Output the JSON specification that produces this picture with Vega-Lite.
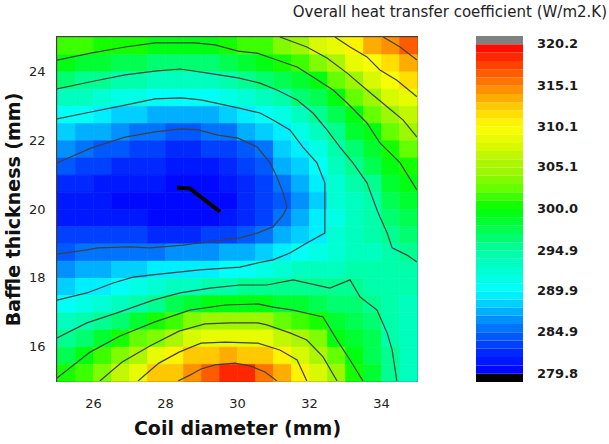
{
"$schema":"https://vega.github.io/schema/vega-lite/v6.json",
"width":360,"height":344,
"autosize":{"type":"none"},
"padding":{"left":57,"top":37,"right":192,"bottom":63},
"background":"white",
"title":{"text":"Overall heat transfer coefficient (W/m2.K)","anchor":"end","frame":"group","dx":190,"offset":16,"font":"DejaVu Sans","fontSize":15,"fontWeight":"normal","color":"#222222"},
"config":{"view":{"stroke":"#404040","strokeWidth":2},
"axis":{"labelFont":"DejaVu Sans","labelFontSize":13,"labelColor":"#222222","titleFont":"DejaVu Sans","titleFontSize":19,"titleFontWeight":"bold","titleColor":"#111111","ticks":false,"tickSize":0,"domain":false,"grid":false}},
"layer":[
{"data":{"values":[
{"x":25.25,"y":24.75,"v":301.5},{"x":25.25,"y":24.25,"v":299.3},{"x":25.25,"y":23.75,"v":296.4},{"x":25.25,"y":23.25,"v":293.5},{"x":25.25,"y":22.75,"v":290.5},{"x":25.25,"y":22.25,"v":288.3},{"x":25.25,"y":21.75,"v":286.3},{"x":25.25,"y":21.25,"v":284.2},{"x":25.25,"y":20.75,"v":282.5},{"x":25.25,"y":20.25,"v":281.5},{"x":25.25,"y":19.75,"v":281.8},{"x":25.25,"y":19.25,"v":283.2},{"x":25.25,"y":18.75,"v":284.8},{"x":25.25,"y":18.25,"v":286.8},{"x":25.25,"y":17.75,"v":288.7},{"x":25.25,"y":17.25,"v":290.7},{"x":25.25,"y":16.75,"v":293.2},{"x":25.25,"y":16.25,"v":295.5},{"x":25.25,"y":15.75,"v":297.8},{"x":25.25,"y":15.25,"v":300.0},
{"x":25.75,"y":24.75,"v":301.7},{"x":25.75,"y":24.25,"v":298.8},{"x":25.75,"y":23.75,"v":295.9},{"x":25.75,"y":23.25,"v":293.0},{"x":25.75,"y":22.75,"v":289.9},{"x":25.75,"y":22.25,"v":287.7},{"x":25.75,"y":21.75,"v":285.5},{"x":25.75,"y":21.25,"v":283.8},{"x":25.75,"y":20.75,"v":282.3},{"x":25.75,"y":20.25,"v":281.3},{"x":25.75,"y":19.75,"v":281.5},{"x":25.75,"y":19.25,"v":283.0},{"x":25.75,"y":18.75,"v":285.0},{"x":25.75,"y":18.25,"v":287.0},{"x":25.75,"y":17.75,"v":289.0},{"x":25.75,"y":17.25,"v":291.2},{"x":25.75,"y":16.75,"v":294.0},{"x":25.75,"y":16.25,"v":296.6},{"x":25.75,"y":15.75,"v":299.0},{"x":25.75,"y":15.25,"v":301.4},
{"x":26.25,"y":24.75,"v":301.0},{"x":26.25,"y":24.25,"v":298.1},{"x":26.25,"y":23.75,"v":295.2},{"x":26.25,"y":23.25,"v":292.2},{"x":26.25,"y":22.75,"v":289.3},{"x":26.25,"y":22.25,"v":286.9},{"x":26.25,"y":21.75,"v":284.6},{"x":26.25,"y":21.25,"v":283.0},{"x":26.25,"y":20.75,"v":281.8},{"x":26.25,"y":20.25,"v":281.0},{"x":26.25,"y":19.75,"v":281.3},{"x":26.25,"y":19.25,"v":283.0},{"x":26.25,"y":18.75,"v":285.4},{"x":26.25,"y":18.25,"v":287.5},{"x":26.25,"y":17.75,"v":289.6},{"x":26.25,"y":17.25,"v":292.4},{"x":26.25,"y":16.75,"v":295.5},{"x":26.25,"y":16.25,"v":298.6},{"x":26.25,"y":15.75,"v":301.3},{"x":26.25,"y":15.25,"v":303.7},
{"x":26.75,"y":24.75,"v":300.5},{"x":26.75,"y":24.25,"v":297.6},{"x":26.75,"y":23.75,"v":294.7},{"x":26.75,"y":23.25,"v":291.7},{"x":26.75,"y":22.75,"v":288.8},{"x":26.75,"y":22.25,"v":286.2},{"x":26.75,"y":21.75,"v":284.0},{"x":26.75,"y":21.25,"v":282.6},{"x":26.75,"y":20.75,"v":281.5},{"x":26.75,"y":20.25,"v":280.8},{"x":26.75,"y":19.75,"v":281.2},{"x":26.75,"y":19.25,"v":283.0},{"x":26.75,"y":18.75,"v":285.6},{"x":26.75,"y":18.25,"v":288.0},{"x":26.75,"y":17.75,"v":290.5},{"x":26.75,"y":17.25,"v":293.4},{"x":26.75,"y":16.75,"v":296.9},{"x":26.75,"y":16.25,"v":300.3},{"x":26.75,"y":15.75,"v":303.3},{"x":26.75,"y":15.25,"v":306.5},
{"x":27.25,"y":24.75,"v":300.0},{"x":27.25,"y":24.25,"v":297.1},{"x":27.25,"y":23.75,"v":294.1},{"x":27.25,"y":23.25,"v":291.2},{"x":27.25,"y":22.75,"v":288.3},{"x":27.25,"y":22.25,"v":285.6},{"x":27.25,"y":21.75,"v":283.6},{"x":27.25,"y":21.25,"v":282.3},{"x":27.25,"y":20.75,"v":281.2},{"x":27.25,"y":20.25,"v":280.6},{"x":27.25,"y":19.75,"v":281.0},{"x":27.25,"y":19.25,"v":283.0},{"x":27.25,"y":18.75,"v":285.8},{"x":27.25,"y":18.25,"v":288.5},{"x":27.25,"y":17.75,"v":291.4},{"x":27.25,"y":17.25,"v":294.5},{"x":27.25,"y":16.75,"v":298.4},{"x":27.25,"y":16.25,"v":302.1},{"x":27.25,"y":15.75,"v":305.5},{"x":27.25,"y":15.25,"v":308.4},
{"x":27.75,"y":24.75,"v":299.6},{"x":27.75,"y":24.25,"v":296.6},{"x":27.75,"y":23.75,"v":293.6},{"x":27.75,"y":23.25,"v":290.5},{"x":27.75,"y":22.75,"v":287.7},{"x":27.75,"y":22.25,"v":285.1},{"x":27.75,"y":21.75,"v":283.3},{"x":27.75,"y":21.25,"v":282.0},{"x":27.75,"y":20.75,"v":281.0},{"x":27.75,"y":20.25,"v":280.4},{"x":27.75,"y":19.75,"v":280.8},{"x":27.75,"y":19.25,"v":282.8},{"x":27.75,"y":18.75,"v":285.7},{"x":27.75,"y":18.25,"v":288.9},{"x":27.75,"y":17.75,"v":292.2},{"x":27.75,"y":17.25,"v":295.7},{"x":27.75,"y":16.75,"v":300.0},{"x":27.75,"y":16.25,"v":303.9},{"x":27.75,"y":15.75,"v":308.2},{"x":27.75,"y":15.25,"v":312.2},
{"x":28.25,"y":24.75,"v":299.7},{"x":28.25,"y":24.25,"v":296.3},{"x":28.25,"y":23.75,"v":293.3},{"x":28.25,"y":23.25,"v":290.3},{"x":28.25,"y":22.75,"v":287.5},{"x":28.25,"y":22.25,"v":284.8},{"x":28.25,"y":21.75,"v":282.8},{"x":28.25,"y":21.25,"v":281.3},{"x":28.25,"y":20.75,"v":280.2},{"x":28.25,"y":20.25,"v":280.2},{"x":28.25,"y":19.75,"v":280.8},{"x":28.25,"y":19.25,"v":282.7},{"x":28.25,"y":18.75,"v":286.2},{"x":28.25,"y":18.25,"v":289.4},{"x":28.25,"y":17.75,"v":293.2},{"x":28.25,"y":17.25,"v":297.4},{"x":28.25,"y":16.75,"v":302.0},{"x":28.25,"y":16.25,"v":306.0},{"x":28.25,"y":15.75,"v":310.2},{"x":28.25,"y":15.25,"v":313.0},
{"x":28.75,"y":24.75,"v":299.7},{"x":28.75,"y":24.25,"v":296.3},{"x":28.75,"y":23.75,"v":293.3},{"x":28.75,"y":23.25,"v":290.3},{"x":28.75,"y":22.75,"v":287.4},{"x":28.75,"y":22.25,"v":284.8},{"x":28.75,"y":21.75,"v":282.6},{"x":28.75,"y":21.25,"v":281.0},{"x":28.75,"y":20.75,"v":280.1},{"x":28.75,"y":20.25,"v":280.0},{"x":28.75,"y":19.75,"v":280.7},{"x":28.75,"y":19.25,"v":282.8},{"x":28.75,"y":18.75,"v":286.3},{"x":28.75,"y":18.25,"v":289.6},{"x":28.75,"y":17.75,"v":293.8},{"x":28.75,"y":17.25,"v":298.2},{"x":28.75,"y":16.75,"v":303.4},{"x":28.75,"y":16.25,"v":308.0},{"x":28.75,"y":15.75,"v":312.1},{"x":28.75,"y":15.25,"v":314.8},
{"x":29.25,"y":24.75,"v":299.8},{"x":29.25,"y":24.25,"v":296.8},{"x":29.25,"y":23.75,"v":293.7},{"x":29.25,"y":23.25,"v":290.6},{"x":29.25,"y":22.75,"v":287.7},{"x":29.25,"y":22.25,"v":285.2},{"x":29.25,"y":21.75,"v":283.0},{"x":29.25,"y":21.25,"v":281.4},{"x":29.25,"y":20.75,"v":280.3},{"x":29.25,"y":20.25,"v":280.0},{"x":29.25,"y":19.75,"v":280.6},{"x":29.25,"y":19.25,"v":283.0},{"x":29.25,"y":18.75,"v":286.8},{"x":29.25,"y":18.25,"v":289.8},{"x":29.25,"y":17.75,"v":294.2},{"x":29.25,"y":17.25,"v":299.1},{"x":29.25,"y":16.75,"v":304.2},{"x":29.25,"y":16.25,"v":308.7},{"x":29.25,"y":15.75,"v":312.5},{"x":29.25,"y":15.25,"v":316.8},
{"x":29.75,"y":24.75,"v":300.2},{"x":29.75,"y":24.25,"v":297.2},{"x":29.75,"y":23.75,"v":294.3},{"x":29.75,"y":23.25,"v":291.2},{"x":29.75,"y":22.75,"v":288.3},{"x":29.75,"y":22.25,"v":285.7},{"x":29.75,"y":21.75,"v":283.8},{"x":29.75,"y":21.25,"v":282.3},{"x":29.75,"y":20.75,"v":281.1},{"x":29.75,"y":20.25,"v":280.5},{"x":29.75,"y":19.75,"v":281.3},{"x":29.75,"y":19.25,"v":283.8},{"x":29.75,"y":18.75,"v":287.2},{"x":29.75,"y":18.25,"v":290.3},{"x":29.75,"y":17.75,"v":294.7},{"x":29.75,"y":17.25,"v":299.4},{"x":29.75,"y":16.75,"v":304.4},{"x":29.75,"y":16.25,"v":309.0},{"x":29.75,"y":15.75,"v":313.1},{"x":29.75,"y":15.25,"v":318.5},
{"x":30.25,"y":24.75,"v":301.3},{"x":30.25,"y":24.25,"v":298.2},{"x":30.25,"y":23.75,"v":295.2},{"x":30.25,"y":23.25,"v":292.3},{"x":30.25,"y":22.75,"v":289.4},{"x":30.25,"y":22.25,"v":286.9},{"x":30.25,"y":21.75,"v":284.6},{"x":30.25,"y":21.25,"v":283.3},{"x":30.25,"y":20.75,"v":282.3},{"x":30.25,"y":20.25,"v":281.9},{"x":30.25,"y":19.75,"v":282.7},{"x":30.25,"y":19.25,"v":284.8},{"x":30.25,"y":18.75,"v":287.7},{"x":30.25,"y":18.25,"v":290.8},{"x":30.25,"y":17.75,"v":295.3},{"x":30.25,"y":17.25,"v":299.7},{"x":30.25,"y":16.75,"v":304.5},{"x":30.25,"y":16.25,"v":309.0},{"x":30.25,"y":15.75,"v":313.0},{"x":30.25,"y":15.25,"v":318.3},
{"x":30.75,"y":24.75,"v":302.0},{"x":30.75,"y":24.25,"v":299.0},{"x":30.75,"y":23.75,"v":296.2},{"x":30.75,"y":23.25,"v":293.3},{"x":30.75,"y":22.75,"v":290.3},{"x":30.75,"y":22.25,"v":288.0},{"x":30.75,"y":21.75,"v":285.7},{"x":30.75,"y":21.25,"v":284.3},{"x":30.75,"y":20.75,"v":283.6},{"x":30.75,"y":20.25,"v":283.4},{"x":30.75,"y":19.75,"v":283.8},{"x":30.75,"y":19.25,"v":285.6},{"x":30.75,"y":18.75,"v":288.4},{"x":30.75,"y":18.25,"v":291.5},{"x":30.75,"y":17.75,"v":295.2},{"x":30.75,"y":17.25,"v":299.3},{"x":30.75,"y":16.75,"v":304.2},{"x":30.75,"y":16.25,"v":308.2},{"x":30.75,"y":15.75,"v":312.2},{"x":30.75,"y":15.25,"v":316.0},
{"x":31.25,"y":24.75,"v":303.6},{"x":31.25,"y":24.25,"v":300.0},{"x":31.25,"y":23.75,"v":297.3},{"x":31.25,"y":23.25,"v":294.5},{"x":31.25,"y":22.75,"v":291.6},{"x":31.25,"y":22.25,"v":289.4},{"x":31.25,"y":21.75,"v":288.2},{"x":31.25,"y":21.25,"v":286.9},{"x":31.25,"y":20.75,"v":285.5},{"x":31.25,"y":20.25,"v":284.8},{"x":31.25,"y":19.75,"v":285.0},{"x":31.25,"y":19.25,"v":287.0},{"x":31.25,"y":18.75,"v":289.6},{"x":31.25,"y":18.25,"v":292.7},{"x":31.25,"y":17.75,"v":295.9},{"x":31.25,"y":17.25,"v":298.9},{"x":31.25,"y":16.75,"v":302.9},{"x":31.25,"y":16.25,"v":306.9},{"x":31.25,"y":15.75,"v":310.7},{"x":31.25,"y":15.25,"v":313.5},
{"x":31.75,"y":24.75,"v":305.0},{"x":31.75,"y":24.25,"v":301.1},{"x":31.75,"y":23.75,"v":298.4},{"x":31.75,"y":23.25,"v":296.1},{"x":31.75,"y":22.75,"v":293.6},{"x":31.75,"y":22.25,"v":291.2},{"x":31.75,"y":21.75,"v":289.5},{"x":31.75,"y":21.25,"v":288.3},{"x":31.75,"y":20.75,"v":287.3},{"x":31.75,"y":20.25,"v":286.8},{"x":31.75,"y":19.75,"v":287.3},{"x":31.75,"y":19.25,"v":288.6},{"x":31.75,"y":18.75,"v":290.6},{"x":31.75,"y":18.25,"v":293.1},{"x":31.75,"y":17.75,"v":295.7},{"x":31.75,"y":17.25,"v":298.5},{"x":31.75,"y":16.75,"v":301.8},{"x":31.75,"y":16.25,"v":305.2},{"x":31.75,"y":15.75,"v":307.7},{"x":31.75,"y":15.25,"v":310.3},
{"x":32.25,"y":24.75,"v":307.5},{"x":32.25,"y":24.25,"v":303.2},{"x":32.25,"y":23.75,"v":299.8},{"x":32.25,"y":23.25,"v":297.7},{"x":32.25,"y":22.75,"v":295.5},{"x":32.25,"y":22.25,"v":293.7},{"x":32.25,"y":21.75,"v":291.8},{"x":32.25,"y":21.25,"v":290.0},{"x":32.25,"y":20.75,"v":289.2},{"x":32.25,"y":20.25,"v":288.8},{"x":32.25,"y":19.75,"v":289.0},{"x":32.25,"y":19.25,"v":289.8},{"x":32.25,"y":18.75,"v":291.5},{"x":32.25,"y":18.25,"v":293.3},{"x":32.25,"y":17.75,"v":295.0},{"x":32.25,"y":17.25,"v":297.9},{"x":32.25,"y":16.75,"v":301.0},{"x":32.25,"y":16.25,"v":303.3},{"x":32.25,"y":15.75,"v":305.5},{"x":32.25,"y":15.25,"v":307.8},
{"x":32.75,"y":24.75,"v":308.5},{"x":32.75,"y":24.25,"v":305.2},{"x":32.75,"y":23.75,"v":302.2},{"x":32.75,"y":23.25,"v":299.6},{"x":32.75,"y":22.75,"v":297.7},{"x":32.75,"y":22.25,"v":295.9},{"x":32.75,"y":21.75,"v":294.4},{"x":32.75,"y":21.25,"v":293.3},{"x":32.75,"y":20.75,"v":292.5},{"x":32.75,"y":20.25,"v":292.0},{"x":32.75,"y":19.75,"v":291.8},{"x":32.75,"y":19.25,"v":292.0},{"x":32.75,"y":18.75,"v":292.7},{"x":32.75,"y":18.25,"v":293.7},{"x":32.75,"y":17.75,"v":295.0},{"x":32.75,"y":17.25,"v":296.6},{"x":32.75,"y":16.75,"v":298.3},{"x":32.75,"y":16.25,"v":299.9},{"x":32.75,"y":15.75,"v":302.1},{"x":32.75,"y":15.25,"v":304.2},
{"x":33.25,"y":24.75,"v":310.8},{"x":33.25,"y":24.25,"v":308.1},{"x":33.25,"y":23.75,"v":305.0},{"x":33.25,"y":23.25,"v":302.3},{"x":33.25,"y":22.75,"v":299.6},{"x":33.25,"y":22.25,"v":298.1},{"x":33.25,"y":21.75,"v":296.5},{"x":33.25,"y":21.25,"v":295.0},{"x":33.25,"y":20.75,"v":294.2},{"x":33.25,"y":20.25,"v":293.8},{"x":33.25,"y":19.75,"v":293.6},{"x":33.25,"y":19.25,"v":293.6},{"x":33.25,"y":18.75,"v":293.8},{"x":33.25,"y":18.25,"v":294.3},{"x":33.25,"y":17.75,"v":295.0},{"x":33.25,"y":17.25,"v":296.0},{"x":33.25,"y":16.75,"v":297.1},{"x":33.25,"y":16.25,"v":298.1},{"x":33.25,"y":15.75,"v":299.2},{"x":33.25,"y":15.25,"v":300.2},
{"x":33.75,"y":24.75,"v":313.3},{"x":33.75,"y":24.25,"v":309.8},{"x":33.75,"y":23.75,"v":307.4},{"x":33.75,"y":23.25,"v":304.9},{"x":33.75,"y":22.75,"v":302.3},{"x":33.75,"y":22.25,"v":299.9},{"x":33.75,"y":21.75,"v":298.6},{"x":33.75,"y":21.25,"v":297.3},{"x":33.75,"y":20.75,"v":295.9},{"x":33.75,"y":20.25,"v":294.8},{"x":33.75,"y":19.75,"v":294.2},{"x":33.75,"y":19.25,"v":293.9},{"x":33.75,"y":18.75,"v":293.8},{"x":33.75,"y":18.25,"v":293.9},{"x":33.75,"y":17.75,"v":294.3},{"x":33.75,"y":17.25,"v":294.9},{"x":33.75,"y":16.75,"v":296.0},{"x":33.75,"y":16.25,"v":297.0},{"x":33.75,"y":15.75,"v":297.7},{"x":33.75,"y":15.25,"v":298.4},
{"x":34.25,"y":24.75,"v":314.4},{"x":34.25,"y":24.25,"v":312.0},{"x":34.25,"y":23.75,"v":309.6},{"x":34.25,"y":23.25,"v":307.3},{"x":34.25,"y":22.75,"v":304.9},{"x":34.25,"y":22.25,"v":302.8},{"x":34.25,"y":21.75,"v":300.6},{"x":34.25,"y":21.25,"v":299.4},{"x":34.25,"y":20.75,"v":298.3},{"x":34.25,"y":20.25,"v":297.4},{"x":34.25,"y":19.75,"v":296.5},{"x":34.25,"y":19.25,"v":295.5},{"x":34.25,"y":18.75,"v":294.6},{"x":34.25,"y":18.25,"v":294.1},{"x":34.25,"y":17.75,"v":293.9},{"x":34.25,"y":17.25,"v":294.0},{"x":34.25,"y":16.75,"v":294.3},{"x":34.25,"y":16.25,"v":294.8},{"x":34.25,"y":15.75,"v":295.3},{"x":34.25,"y":15.25,"v":295.6},
{"x":34.75,"y":24.75,"v":317.0},{"x":34.75,"y":24.25,"v":313.6},{"x":34.75,"y":23.75,"v":311.1},{"x":34.75,"y":23.25,"v":308.7},{"x":34.75,"y":22.75,"v":306.3},{"x":34.75,"y":22.25,"v":304.3},{"x":34.75,"y":21.75,"v":302.5},{"x":34.75,"y":21.25,"v":300.7},{"x":34.75,"y":20.75,"v":299.3},{"x":34.75,"y":20.25,"v":298.3},{"x":34.75,"y":19.75,"v":297.3},{"x":34.75,"y":19.25,"v":296.3},{"x":34.75,"y":18.75,"v":295.2},{"x":34.75,"y":18.25,"v":294.5},{"x":34.75,"y":17.75,"v":294.0},{"x":34.75,"y":17.25,"v":293.7},{"x":34.75,"y":16.75,"v":293.5},{"x":34.75,"y":16.25,"v":293.4},{"x":34.75,"y":15.75,"v":293.4},{"x":34.75,"y":15.25,"v":293.4}
]},
"mark":{"type":"rect","strokeWidth":0.6},
"encoding":{
"x":{"field":"x","type":"quantitative","bin":{"step":0.5,"extent":[25,35]},"scale":{"domain":[25,35],"nice":false,"zero":false},"title":"Coil diameter (mm)","axis":{"values":[26,28,30,32,34],"format":"d","labelPadding":16,"titlePadding":9}},
"y":{"field":"y","type":"quantitative","bin":{"step":0.5,"extent":[15,25]},"scale":{"domain":[15,25],"nice":false,"zero":false},"title":"Baffle thickness (mm)","axis":{"values":[16,18,20,22,24],"format":"d","labelPadding":12,"titlePadding":5}},
"color":{"field":"v","type":"quantitative","scale":{"type":"threshold","domain":[279.8,280.82,281.84,282.86,283.88,284.9,285.9,286.9,287.9,288.9,289.9,290.9,291.9,292.9,293.9,294.9,295.92,296.94,297.96,298.98,300.0,301.02,302.04,303.06,304.08,305.1,306.1,307.1,308.1,309.1,310.1,311.1,312.1,313.1,314.1,315.1,316.12,317.14,318.16,319.18,320.2],"range":["#000000","#0008ff","#0018ff","#0028ff","#0040ff","#0058ff","#0073ff","#0091ff","#00afff","#00cfff","#00efff","#00fff6","#00ffe4","#00ffd2","#00ffbe","#00ffaa","#00ff90","#00ff70","#00ff50","#00ff30","#00ff10","#14ff00","#3cff00","#64ff00","#80fb00","#9cf700","#abf600","#c1f800","#d7fa00","#e7fc00","#f7fe00","#fff400","#ffde00","#ffc800","#ffac00","#ff9000","#ff7500","#ff5b00","#ff4100","#ff2700","#ff0d00","#808080"]},
"legend":{"type":"gradient","orient":"none","legendX":419,"legendY":-1,"direction":"vertical","title":null,"padding":0,"gradientLength":346,"gradientThickness":47,"labelFont":"DejaVu Sans","labelFontSize":13,"labelFontWeight":"bold","labelColor":"#1a1a1a","labelOffset":14,"labelOverlap":false,"labelExpr":"indexof([279.8,284.9,289.9,294.9,300,305.1,310.1,315.1,320.2], datum.value) >= 0 ? format(datum.value, '.1f') : ''"}},
"stroke":{"field":"v","type":"quantitative","scale":{"type":"threshold","domain":[279.8,280.82,281.84,282.86,283.88,284.9,285.9,286.9,287.9,288.9,289.9,290.9,291.9,292.9,293.9,294.9,295.92,296.94,297.96,298.98,300.0,301.02,302.04,303.06,304.08,305.1,306.1,307.1,308.1,309.1,310.1,311.1,312.1,313.1,314.1,315.1,316.12,317.14,318.16,319.18,320.2],"range":["#000000","#0008ff","#0018ff","#0028ff","#0040ff","#0058ff","#0073ff","#0091ff","#00afff","#00cfff","#00efff","#00fff6","#00ffe4","#00ffd2","#00ffbe","#00ffaa","#00ff90","#00ff70","#00ff50","#00ff30","#00ff10","#14ff00","#3cff00","#64ff00","#80fb00","#9cf700","#abf600","#c1f800","#d7fa00","#e7fc00","#f7fe00","#fff400","#ffde00","#ffc800","#ffac00","#ff9000","#ff7500","#ff5b00","#ff4100","#ff2700","#ff0d00","#808080"]},"legend":null}
}},
{"data":{"values":[
{"c":"a","i":0,"x":25.0,"y":24.33},{"c":"a","i":1,"x":25.94,"y":24.53},{"c":"a","i":2,"x":26.89,"y":24.71},{"c":"a","i":3,"x":27.72,"y":24.83},{"c":"a","i":4,"x":28.83,"y":24.83},{"c":"a","i":5,"x":29.39,"y":24.77},{"c":"a","i":6,"x":30.03,"y":24.59},{"c":"a","i":7,"x":30.56,"y":24.53},{"c":"a","i":8,"x":31.11,"y":24.33},{"c":"a","i":9,"x":31.67,"y":24.13},{"c":"a","i":10,"x":32.11,"y":23.84},{"c":"a","i":11,"x":32.67,"y":23.46},{"c":"a","i":12,"x":33.06,"y":23.08},{"c":"a","i":13,"x":33.61,"y":22.5},{"c":"a","i":14,"x":33.97,"y":21.92},{"c":"a","i":15,"x":34.53,"y":21.34},{"c":"a","i":16,"x":35.0,"y":20.55},
{"c":"b","i":0,"x":25.0,"y":23.49},{"c":"b","i":1,"x":25.94,"y":23.7},{"c":"b","i":2,"x":26.89,"y":23.9},{"c":"b","i":3,"x":27.72,"y":24.01},{"c":"b","i":4,"x":28.42,"y":24.07},{"c":"b","i":5,"x":29.19,"y":23.95},{"c":"b","i":6,"x":30.03,"y":23.81},{"c":"b","i":7,"x":30.64,"y":23.66},{"c":"b","i":8,"x":31.11,"y":23.46},{"c":"b","i":9,"x":31.67,"y":23.17},{"c":"b","i":10,"x":32.11,"y":22.79},{"c":"b","i":11,"x":32.5,"y":22.3},{"c":"b","i":12,"x":32.86,"y":21.8},{"c":"b","i":13,"x":33.22,"y":21.34},{"c":"b","i":14,"x":33.61,"y":20.76},{"c":"b","i":15,"x":33.89,"y":19.97},{"c":"b","i":16,"x":33.97,"y":19.77},{"c":"b","i":17,"x":34.17,"y":19.3},{"c":"b","i":18,"x":34.31,"y":18.87},{"c":"b","i":19,"x":34.72,"y":18.66},{"c":"b","i":20,"x":35.0,"y":18.46},
{"c":"c","i":0,"x":25.0,"y":22.62},{"c":"c","i":1,"x":25.94,"y":22.82},{"c":"c","i":2,"x":26.89,"y":23.02},{"c":"c","i":3,"x":27.72,"y":23.2},{"c":"c","i":4,"x":28.44,"y":23.23},{"c":"c","i":5,"x":29.0,"y":23.17},{"c":"c","i":6,"x":30.03,"y":22.94},{"c":"c","i":7,"x":30.64,"y":22.79},{"c":"c","i":8,"x":31.0,"y":22.59},{"c":"c","i":9,"x":31.47,"y":22.3},{"c":"c","i":10,"x":31.83,"y":21.8},{"c":"c","i":11,"x":32.22,"y":21.34},{"c":"c","i":12,"x":32.44,"y":20.76},{"c":"c","i":13,"x":32.44,"y":19.97},{"c":"c","i":14,"x":32.44,"y":19.3},{"c":"c","i":15,"x":31.94,"y":19.01},{"c":"c","i":16,"x":31.47,"y":18.72},{"c":"c","i":17,"x":31.0,"y":18.52},{"c":"c","i":18,"x":30.56,"y":18.43},{"c":"c","i":19,"x":30.08,"y":18.31},{"c":"c","i":20,"x":28.97,"y":18.23},{"c":"c","i":21,"x":27.58,"y":18.08},{"c":"c","i":22,"x":27.11,"y":18.02},{"c":"c","i":23,"x":26.56,"y":17.85},{"c":"c","i":24,"x":25.83,"y":17.56},{"c":"c","i":25,"x":25.0,"y":17.35},
{"c":"d","i":0,"x":25.0,"y":21.34},{"c":"d","i":1,"x":25.94,"y":21.77},{"c":"d","i":2,"x":26.89,"y":22.09},{"c":"d","i":3,"x":27.72,"y":22.24},{"c":"d","i":4,"x":28.44,"y":22.33},{"c":"d","i":5,"x":28.92,"y":22.3},{"c":"d","i":6,"x":29.47,"y":22.15},{"c":"d","i":7,"x":30.03,"y":22.06},{"c":"d","i":8,"x":30.56,"y":21.8},{"c":"d","i":9,"x":30.92,"y":21.34},{"c":"d","i":10,"x":31.11,"y":20.93},{"c":"d","i":11,"x":31.28,"y":20.47},{"c":"d","i":12,"x":31.39,"y":20.06},{"c":"d","i":13,"x":31.28,"y":19.83},{"c":"d","i":14,"x":31.0,"y":19.48},{"c":"d","i":15,"x":30.56,"y":19.3},{"c":"d","i":16,"x":30.08,"y":19.16},{"c":"d","i":17,"x":29.17,"y":19.04},{"c":"d","i":18,"x":28.5,"y":18.95},{"c":"d","i":19,"x":27.58,"y":18.87},{"c":"d","i":20,"x":27.03,"y":18.9},{"c":"d","i":21,"x":26.14,"y":18.87},{"c":"d","i":22,"x":25.83,"y":18.81},{"c":"d","i":23,"x":25.0,"y":18.69},
{"c":"e","i":0,"x":25.0,"y":16.25},{"c":"e","i":1,"x":25.83,"y":16.69},{"c":"e","i":2,"x":26.75,"y":17.01},{"c":"e","i":3,"x":27.67,"y":17.35},{"c":"e","i":4,"x":28.42,"y":17.56},{"c":"e","i":5,"x":29.25,"y":17.7},{"c":"e","i":6,"x":30.08,"y":17.79},{"c":"e","i":7,"x":30.83,"y":17.79},{"c":"e","i":8,"x":31.56,"y":17.94},{"c":"e","i":9,"x":32.58,"y":17.7},{"c":"e","i":10,"x":33.14,"y":17.94},{"c":"e","i":11,"x":33.42,"y":17.44},{"c":"e","i":12,"x":33.89,"y":17.06},{"c":"e","i":13,"x":34.17,"y":16.4},{"c":"e","i":14,"x":34.31,"y":15.9},{"c":"e","i":15,"x":34.44,"y":15.0},
{"c":"f","i":0,"x":25.0,"y":15.09},{"c":"f","i":1,"x":25.92,"y":15.84},{"c":"f","i":2,"x":26.75,"y":16.31},{"c":"f","i":3,"x":27.72,"y":16.72},{"c":"f","i":4,"x":28.69,"y":17.06},{"c":"f","i":5,"x":29.67,"y":17.21},{"c":"f","i":6,"x":30.58,"y":17.24},{"c":"f","i":7,"x":31.0,"y":17.15},{"c":"f","i":8,"x":31.56,"y":17.06},{"c":"f","i":9,"x":32.39,"y":16.86},{"c":"f","i":10,"x":32.78,"y":16.19},{"c":"f","i":11,"x":33.14,"y":15.61},{"c":"f","i":12,"x":33.5,"y":15.0},
{"c":"g","i":0,"x":26.19,"y":15.0},{"c":"g","i":1,"x":26.81,"y":15.55},{"c":"g","i":2,"x":27.58,"y":16.02},{"c":"g","i":3,"x":28.39,"y":16.45},{"c":"g","i":4,"x":29.11,"y":16.66},{"c":"g","i":5,"x":29.83,"y":16.69},{"c":"g","i":6,"x":30.58,"y":16.69},{"c":"g","i":7,"x":30.83,"y":16.63},{"c":"g","i":8,"x":31.47,"y":16.4},{"c":"g","i":9,"x":31.94,"y":16.19},{"c":"g","i":10,"x":32.39,"y":15.7},{"c":"g","i":11,"x":32.78,"y":15.0},
{"c":"h","i":0,"x":27.25,"y":15.0},{"c":"h","i":1,"x":27.83,"y":15.52},{"c":"h","i":2,"x":28.39,"y":15.84},{"c":"h","i":3,"x":29.0,"y":16.1},{"c":"h","i":4,"x":29.67,"y":16.13},{"c":"h","i":5,"x":30.58,"y":16.1},{"c":"h","i":6,"x":31.19,"y":15.9},{"c":"h","i":7,"x":31.67,"y":15.61},{"c":"h","i":8,"x":31.94,"y":15.0},
{"c":"k","i":0,"x":28.36,"y":15.0},{"c":"k","i":1,"x":28.69,"y":15.17},{"c":"k","i":2,"x":29.0,"y":15.35},{"c":"k","i":3,"x":29.39,"y":15.47},{"c":"k","i":4,"x":29.94,"y":15.52},{"c":"k","i":5,"x":30.36,"y":15.44},{"c":"k","i":6,"x":30.78,"y":15.26},{"c":"k","i":7,"x":31.11,"y":15.0},
{"c":"m","i":0,"x":31.19,"y":25.0},{"c":"m","i":1,"x":31.94,"y":24.71},{"c":"m","i":2,"x":32.5,"y":24.39},{"c":"m","i":3,"x":33.06,"y":23.95},{"c":"m","i":4,"x":33.61,"y":23.46},{"c":"m","i":5,"x":34.17,"y":22.97},{"c":"m","i":6,"x":34.61,"y":22.59},{"c":"m","i":7,"x":35.0,"y":22.09},
{"c":"n","i":0,"x":32.72,"y":25.0},{"c":"n","i":1,"x":33.14,"y":24.71},{"c":"n","i":2,"x":33.61,"y":24.42},{"c":"n","i":3,"x":33.97,"y":24.04},{"c":"n","i":4,"x":34.44,"y":23.74},{"c":"n","i":5,"x":35.0,"y":23.26},
{"c":"p","i":0,"x":34.06,"y":25.0},{"c":"p","i":1,"x":34.53,"y":24.71},{"c":"p","i":2,"x":35.0,"y":24.33}
]},
"mark":{"type":"line","color":"#404040","strokeWidth":1.2,"clip":true},
"encoding":{
"x":{"field":"x","type":"quantitative","scale":{"domain":[25,35],"nice":false,"zero":false},"title":"Coil diameter (mm)"},
"y":{"field":"y","type":"quantitative","scale":{"domain":[15,25],"nice":false,"zero":false},"title":"Baffle thickness (mm)"},
"detail":{"field":"c"},
"order":{"field":"i","type":"quantitative"}
}},
{"data":{"values":[
{"i":0,"x":28.33,"y":20.62},{"i":1,"x":28.69,"y":20.6},{"i":2,"x":29.53,"y":19.92}
]},
"mark":{"type":"line","color":"#000000","strokeWidth":4,"strokeCap":"butt","clip":true},
"encoding":{
"x":{"field":"x","type":"quantitative","scale":{"domain":[25,35],"nice":false,"zero":false},"title":"Coil diameter (mm)"},
"y":{"field":"y","type":"quantitative","scale":{"domain":[15,25],"nice":false,"zero":false},"title":"Baffle thickness (mm)"},
"order":{"field":"i","type":"quantitative"}
}}
]
}
